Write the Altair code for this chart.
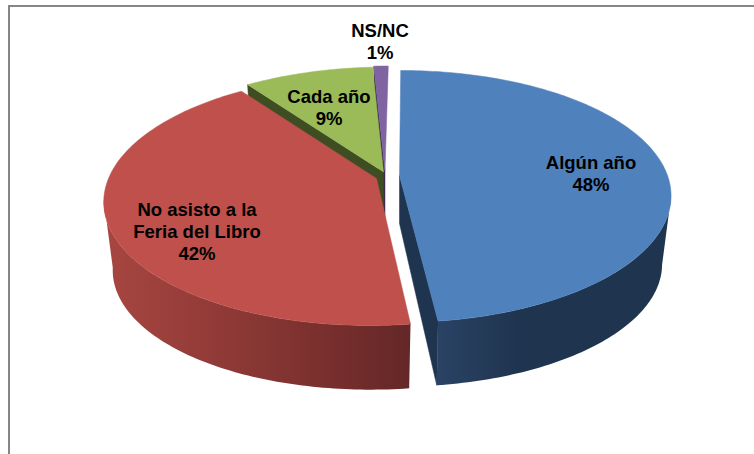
import math
import altair as alt

# Survey answers: how often respondents attend the book fair (percent)
categories = ["Algún año", "No asisto a la\nFeria del Libro", "Cada año", "NS/NC"]
shares = [48, 42, 9, 1]

W, H = 754, 454

# Pie drawing layout: tilted disc with perspective, each slice pulled out on its own apex
RX, RY, PERSP = 268.0, 122.5, 1 / 6
VANISH_X = 408.0
DEPTH, APEX_DEPTH, BOTTOM_SCALE = 69.0, 48.0, 0.967
SILHOUETTE = math.degrees(math.acos(-PERSP))
APEX = {"blue": (399.5, 175.5), "red": (376.5, 178.5), "green": (383.5, 172), "purple": (385, 171)}
TOP = {"blue": "#4f81bd", "red": "#bf504c", "green": "#9bbb59", "purple": "#8064a2"}
CUT = {"blue": "#1f344f", "green": "#3f4d22", "purple": "#3b2d4f"}
SLICE_KEYS = ["blue", "red", "green", "purple"]
LABEL_POS = [(591, 162.5), (197, 210), (329, 96.5), (380, 31)]
FONT_SIZE = 18.5
LINE_HEIGHT = 22


def ring(apex, deg, bottom=False):
    """Project a rim point at clockwise angle deg from the back of the disc."""
    t = math.radians(deg)
    u, v = math.sin(t), math.cos(t)
    w = 1 + PERSP * v
    s = BOTTOM_SCALE if bottom else 1.0
    dy = DEPTH if bottom else 0.0
    return [
        VANISH_X + (apex[0] - VANISH_X + s * RX * u) / w,
        apex[1] + dy - s * RY * v / w,
    ]


def feature(points, colour="none"):
    closed = points + [points[0]]
    return {
        "type": "Feature",
        "geometry": {"type": "Polygon", "coordinates": [closed]},
        "properties": {"colour": colour},
    }


def arc_degrees(start, end):
    n = max(2, int(math.ceil(end - start)))
    return [start + (end - start) * i / n for i in range(n + 1)]


# Slice angular extents follow directly from the shares
extents = {}
angle = 0.0
for key, share in zip(SLICE_KEYS, shares):
    extents[key] = (angle, angle + share * 3.6)
    angle += share * 3.6


def cut_face(key, deg):
    a = APEX[key]
    return feature(
        [ring(a, deg), [a[0], a[1]], [a[0], a[1] + APEX_DEPTH], ring(a, deg, True)], CUT[key]
    )


def top_face(key):
    a = APEX[key]
    start, end = extents[key]
    return feature([[a[0], a[1]]] + [ring(a, d) for d in arc_degrees(start, end)], TOP[key])


def wall_outline(key, start, end):
    a = APEX[key]
    degs = arc_degrees(start, end)
    return feature([ring(a, d) for d in degs] + [ring(a, d, True) for d in reversed(degs)])


def flat_layer(features):
    return (
        alt.Chart(alt.Data(values=features))
        .mark_geoshape(strokeWidth=0.5)
        .encode(
            fill=alt.Fill("properties.colour:N", scale=None),
            stroke=alt.Stroke("properties.colour:N", scale=None),
        )
        .project(type="identity", scale=1, translate=[0, 0])
    )


def wall_layer(outline, stops):
    shade = alt.Gradient(
        gradient="linear",
        x1=0,
        x2=1,
        y1=0,
        y2=0,
        stops=[alt.GradientStop(color=c, offset=o) for o, c in stops],
    )
    return (
        alt.Chart(alt.Data(values=[outline]))
        .mark_geoshape(fill=shade, strokeWidth=0)
        .project(type="identity", scale=1, translate=[0, 0])
    )


# Painter's order, back to front
back = flat_layer(
    [
        cut_face("purple", extents["purple"][0]),
        top_face("purple"),
        cut_face("green", extents["green"][0]),
        top_face("green"),
    ]
)
red_wall = wall_layer(
    wall_outline("red", extents["red"][0], 360 - SILHOUETTE),
    [(0, "#a84641"), (0.35, "#923b38"), (0.7, "#7a302e"), (1, "#642727")],
)
red_top = flat_layer([top_face("red")])
blue_cut = flat_layer([cut_face("blue", extents["blue"][1])])
blue_wall = wall_layer(
    wall_outline("blue", SILHOUETTE, extents["blue"][1]),
    [(0, "#2a4365"), (0.35, "#1f344f"), (1, "#1f344f")],
)
blue_top = flat_layer([top_face("blue")])

one_row = alt.Data(values=[{"k": 1}])
frame_top = alt.Chart(one_row).mark_rule(color="#868686", strokeWidth=2).encode(
    x=alt.value(8), x2=alt.value(W), y=alt.value(6)
)
frame_left = alt.Chart(one_row).mark_rule(color="#868686", strokeWidth=2).encode(
    x=alt.value(9), y=alt.value(5), y2=alt.value(H)
)

labels = []
for cat, share, (lx, ly) in zip(categories, shares, LABEL_POS):
    labels.append(
        alt.Chart(one_row)
        .mark_text(
            text=f"{cat}\n{share}%",
            lineBreak="\n",
            lineHeight=LINE_HEIGHT,
            font="Liberation Sans",
            fontWeight="bold",
            fontSize=FONT_SIZE,
            color="black",
            align="center",
            baseline="middle",
        )
        .encode(x=alt.value(lx), y=alt.value(ly))
    )

chart = (
    alt.layer(back, red_wall, red_top, blue_cut, blue_wall, blue_top, frame_top, frame_left, *labels)
    .properties(
        width=W,
        height=H,
        padding=0,
        background="white",
        autosize=alt.AutoSizeParams(type="none"),
    )
    .configure_view(stroke=None)
)

chart.save("out.html", embed_options={"renderer": "svg", "actions": False})
